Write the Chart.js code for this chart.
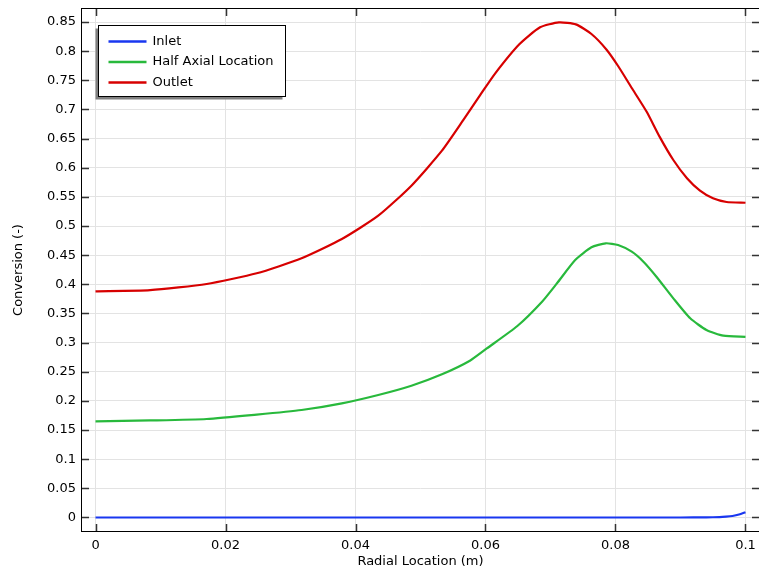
<!DOCTYPE html>
<html>
<head>
<meta charset="utf-8">
<title>Conversion vs Radial Location</title>
<script src="https://cdn.jsdelivr.net/npm/chart.js@4.4.0/dist/chart.umd.min.js"></script>
<style>
  body { margin: 0; background: #fff; }
  canvas { display: block; }
</style>
</head>
<body>
<canvas id="chart" width="759" height="571"></canvas>
<script>
// Values
const inletR = [0, 0.02, 0.04, 0.06, 0.08, 0.09, 0.094, 0.096, 0.097, 0.098, 0.099, 0.1];
const inletC = [0, 0, 0, 0, 0, 0, 0.0002, 0.0006, 0.0013, 0.0025, 0.005, 0.009];

const halfR = [0, 0.0084, 0.0171, 0.0248, 0.0317, 0.0379, 0.0435, 0.0486, 0.0533, 0.0576, 0.0602,
  0.0649, 0.0687, 0.071, 0.0738, 0.0763, 0.0785, 0.0804, 0.0825, 0.0843, 0.0863, 0.0889,
  0.0915, 0.094, 0.0966, 0.1];
const halfC = [0.165, 0.1665, 0.169, 0.1765, 0.1844, 0.1959, 0.2102, 0.2261, 0.2457, 0.269, 0.29,
  0.3285, 0.3702, 0.4018, 0.4418, 0.4635, 0.4704, 0.4675, 0.456, 0.4388, 0.4131, 0.376,
  0.3417, 0.3217, 0.3119, 0.31];

const outletR = [0, 0.0084, 0.0171, 0.0248, 0.0317, 0.0379, 0.0435, 0.0486, 0.0533, 0.0566, 0.0592,
  0.0615, 0.0652, 0.0684, 0.0713, 0.0739, 0.0763, 0.0786, 0.0804, 0.0827, 0.0848, 0.0868,
  0.0889, 0.091, 0.093, 0.095, 0.0971, 0.1];
const outletC = [0.388, 0.39, 0.4006, 0.419, 0.4447, 0.4778, 0.5178, 0.5693, 0.6293, 0.682, 0.725,
  0.762, 0.8118, 0.841, 0.8495, 0.846, 0.8295, 0.803, 0.7746, 0.7334, 0.696, 0.653,
  0.6133, 0.582, 0.5607, 0.5476, 0.5413, 0.54];

const xTicks = [0, 0.02, 0.04, 0.06, 0.08, 0.1];
const yTicks = [0, 0.05, 0.1, 0.15, 0.2, 0.25, 0.3, 0.35, 0.4, 0.45, 0.5, 0.55, 0.6, 0.65, 0.7, 0.75, 0.8, 0.85];

// Combine x and y arrays into points
function toPoints(xs, ys) {
  return xs.map((x, i) => ({ x: x, y: ys[i] }));
}

function fmt(v) {
  return String(Number(v.toFixed(3)));
}

Chart.defaults.font.family = "'DejaVu Sans', sans-serif";
Chart.defaults.font.size = 13;
Chart.defaults.color = '#000';

// frame + inward tick marks on all four sides
const framePlugin = {
  id: 'frame',
  afterDatasetsDraw(chart) {
    const ctx = chart.ctx;
    const a = chart.chartArea;
    const xs = chart.scales.x;
    const ys = chart.scales.y;
    const len = 7;
    ctx.save();
    ctx.strokeStyle = '#333';
    ctx.lineWidth = 1.5;
    ctx.beginPath();
    xs.ticks.forEach(t => {
      const px = Math.round(xs.getPixelForValue(t.value)) + 0.5;
      ctx.moveTo(px, a.bottom); ctx.lineTo(px, a.bottom - len);
      ctx.moveTo(px, a.top); ctx.lineTo(px, a.top + len);
    });
    ys.ticks.forEach(t => {
      const py = Math.round(ys.getPixelForValue(t.value)) + 0.5;
      ctx.moveTo(a.left, py); ctx.lineTo(a.left + len, py);
      ctx.moveTo(a.right, py); ctx.lineTo(a.right - len, py);
    });
    ctx.stroke();
    ctx.strokeStyle = '#000';
    ctx.lineWidth = 1;
    ctx.strokeRect(Math.round(a.left) - 0.5, Math.round(a.top) - 0.5,
      Math.round(a.right - a.left) + 1, Math.round(a.bottom - a.top) + 1);
    ctx.restore();
  }
};

// boxed legend with a gray drop shadow, inside the plot
const boxLegend = {
  id: 'boxLegend',
  afterDraw(chart) {
    const ctx = chart.ctx;
    const a = chart.chartArea;
    const bx = a.left + 16.5, by = a.top + 16.5, bw = 187, bh = 71;
    ctx.save();
    ctx.fillStyle = '#808080';
    ctx.fillRect(bx - 3, by + 3, bw, bh);
    ctx.fillStyle = '#fff';
    ctx.fillRect(bx, by, bw, bh);
    ctx.strokeStyle = '#000';
    ctx.lineWidth = 1;
    ctx.strokeRect(bx, by, bw, bh);
    ctx.font = "13px 'DejaVu Sans'";
    ctx.textBaseline = 'middle';
    chart.data.datasets.forEach((ds, i) => {
      const cy = by + 16 + i * 20.5;
      ctx.strokeStyle = ds.borderColor;
      ctx.lineWidth = 2.5;
      ctx.beginPath();
      ctx.moveTo(bx + 10, cy);
      ctx.lineTo(bx + 48, cy);
      ctx.stroke();
      ctx.fillStyle = '#000';
      ctx.fillText(ds.label, bx + 54, cy);
    });
    ctx.restore();
  }
};

const ctx = document.getElementById('chart');
new Chart(ctx, {
  type: 'line',
  data: {
    datasets: [
      { label: 'Inlet', data: toPoints(inletR, inletC), borderColor: 'rgb(25,55,240)' },
      { label: 'Half Axial Location', data: toPoints(halfR, halfC), borderColor: 'rgb(40,185,60)' },
      { label: 'Outlet', data: toPoints(outletR, outletC), borderColor: 'rgb(215,0,0)' }
    ]
  },
  options: {
    responsive: false,
    animation: false,
    layout: { padding: { top: 9, right: 0, left: 0, bottom: 0 } },
    elements: {
      point: { radius: 0 },
      line: { borderWidth: 2.2, tension: 0.2, fill: false }
    },
    plugins: {
      legend: { display: false },
      tooltip: { enabled: false }
    },
    scales: {
      x: {
        type: 'linear',
        min: -0.00208,
        max: 0.10208,
        afterBuildTicks: s => { s.ticks = xTicks.map(v => ({ value: v })); },
        afterFit: s => { s.height = 40; s.paddingLeft = 0; s.paddingRight = 0; },
        ticks: { callback: v => fmt(v), padding: 7, maxRotation: 0, autoSkip: false },
        grid: { color: '#e3e3e3', lineWidth: 1, drawTicks: false },
        border: { display: false },
        title: { display: true, text: 'Radial Location (m)', padding: { top: 0, bottom: 2 } }
      },
      y: {
        type: 'linear',
        min: -0.0232,
        max: 0.8724,
        afterBuildTicks: s => { s.ticks = yTicks.map(v => ({ value: v })); },
        afterFit: s => { s.width = 82; s.paddingTop = 0; s.paddingBottom = 0; },
        ticks: { callback: v => fmt(v), padding: 6, autoSkip: false },
        grid: { color: '#e3e3e3', lineWidth: 1, drawTicks: false },
        border: { display: false },
        title: { display: true, text: 'Conversion (-)', padding: { top: 11, bottom: 0 } }
      }
    }
  },
  plugins: [framePlugin, boxLegend]
});
</script>
</body>
</html>
